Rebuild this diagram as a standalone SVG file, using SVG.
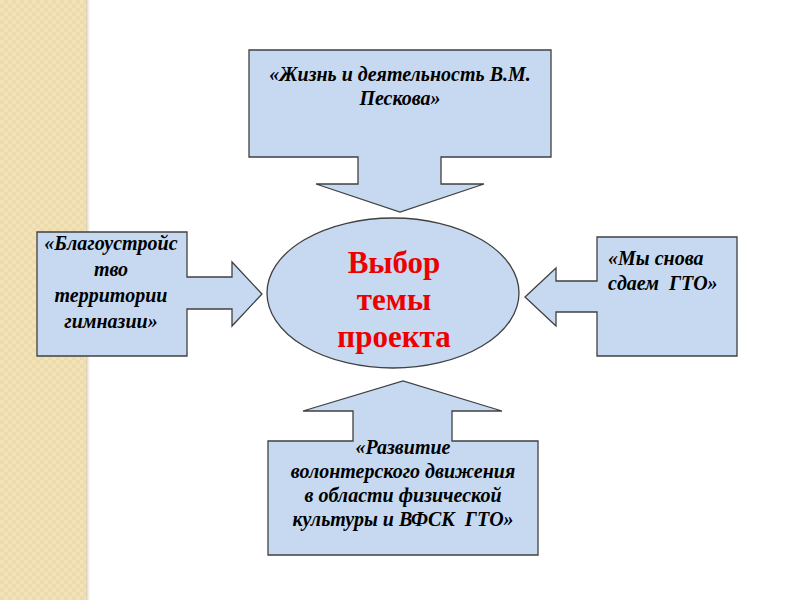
<svg xmlns="http://www.w3.org/2000/svg" width="800" height="600" viewBox="0 0 800 600">
<defs>
<pattern id="weave" x="0" y="0" width="8" height="8" patternUnits="userSpaceOnUse">
<rect width="8" height="8" fill="#EEDBAB"/>
<rect x="0" y="0" width="4" height="4" fill="#F2E2BA"/>
<rect x="4" y="4" width="4" height="4" fill="#F2E2BA"/>
</pattern>
<linearGradient id="edge" x1="0" x2="1" y1="0" y2="0">
<stop offset="0" stop-color="#D9CFB2"/>
<stop offset="1" stop-color="#FFFFFF"/>
</linearGradient>
</defs>
<style>
.shape{fill:#C6D9F1;stroke:#404040;stroke-width:1.3}
.mid{text-anchor:middle}
</style>
<rect x="0" y="0" width="800" height="600" fill="#FFFFFF"/>
<rect x="0" y="0" width="86" height="600" fill="url(#weave)"/>
<rect x="86" y="0" width="4" height="600" fill="url(#edge)"/>

<g id="connectors"/>

<g font-family="'Liberation Serif', 'Times New Roman', serif" font-style="italic" font-weight="bold" font-size="20" fill="#000000">
<g id="node-top">
<path class="shape" d="M249,50 H551 V157 H441 V184 H484 L400,212 L316,184 H358 V157 H249 Z"/>
<text class="mid" x="400" y="81">«Жизнь и деятельность В.М.</text>
<text class="mid" x="400" y="105">Пескова»</text>
</g>

<g id="node-left">
<path class="shape" d="M37,232 H187 V277 H232 V262 L262,294 L232,326 V309 H187 V356 H37 Z"/>
<text class="mid" x="111" y="250">«Благоустройс</text>
<text class="mid" x="111" y="276">тво</text>
<text class="mid" x="111" y="302">территории</text>
<text class="mid" x="111" y="328">гимназии»</text>
</g>

<g id="node-right">
<path class="shape" d="M597,237 H737 V356 H597 V312 H556 V326 L525,297 L556,268 V281 H597 Z"/>
<text x="608" y="265">«Мы снова</text>
<text x="608" y="290" xml:space="preserve">сдаем  ГТО»</text>
</g>

<g id="node-bottom">
<path class="shape" d="M268,441 H353 V411 H303 L403,381 L502,411 H452 V441 H538 V555 H268 Z"/>
<text class="mid" x="403" y="454">«Развитие</text>
<text class="mid" x="403" y="478">волонтерского движения</text>
<text class="mid" x="403" y="502">в области физической</text>
<text class="mid" x="403" y="526" xml:space="preserve">культуры и ВФСК  ГТО»</text>
</g>
</g>

<g id="node-center">
<ellipse class="shape" cx="393" cy="293" rx="126" ry="75"/>
<g font-family="'Liberation Serif', 'Times New Roman', serif" font-weight="bold" font-size="31" fill="#EE0000" text-anchor="middle">
<text x="394" y="273">Выбор</text>
<text x="394" y="310">темы</text>
<text x="394" y="347">проекта</text>
</g>
</g>
</svg>
